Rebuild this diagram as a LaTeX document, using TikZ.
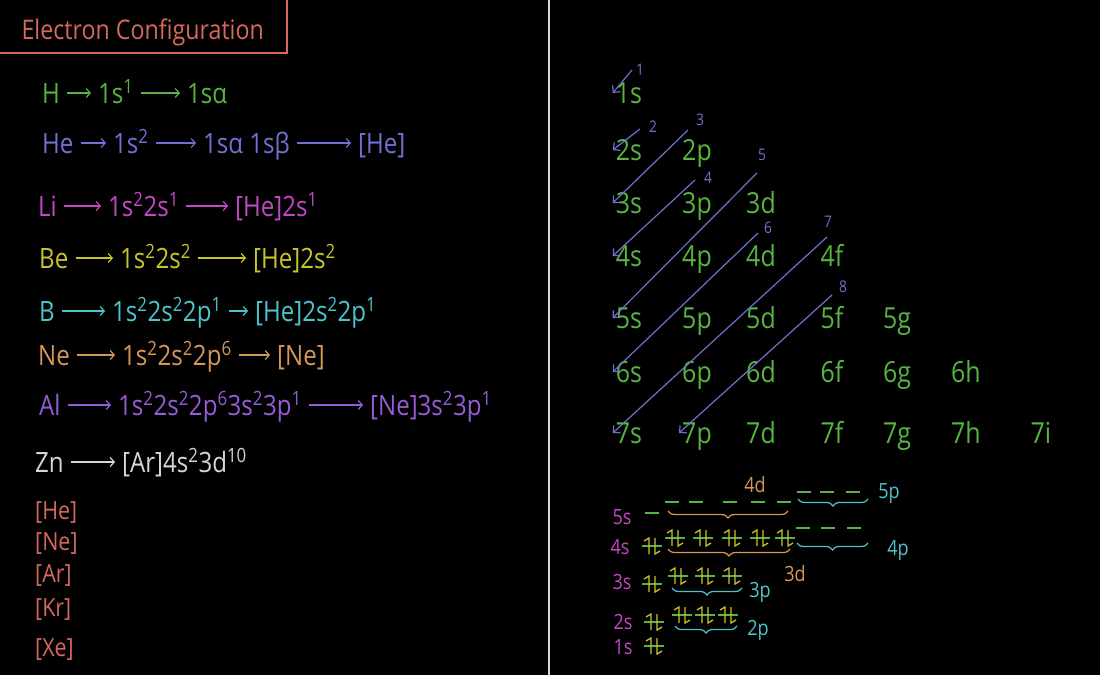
\documentclass[tikz,border=0pt]{standalone}
\usepackage{fontspec}
\setmainfont[FakeStretch=0.86]{Open Sans}
\usepackage{tikz}
\usetikzlibrary{arrows.meta, decorations.pathreplacing}
\definecolor{ChalkRed}{RGB}{214,104,92}
\definecolor{ChalkGreen}{RGB}{88,180,66}
\definecolor{ChalkBlue}{RGB}{112,112,214}
\definecolor{ChalkMagenta}{RGB}{196,72,196}
\definecolor{ChalkYellow}{RGB}{200,196,44}
\definecolor{ChalkCyan}{RGB}{76,196,204}
\definecolor{ChalkOrange}{RGB}{214,150,88}
\definecolor{ChalkPurple}{RGB}{150,92,214}
\definecolor{ChalkGrey}{RGB}{214,214,214}
\definecolor{ChalkLavender}{RGB}{112,112,206}
\newcommand{\ups}[1]{\textsuperscript{#1}}

\begin{document}
\begin{tikzpicture}[x=1pt, y=-1pt,
    eqterm/.style={anchor=west, inner sep=0pt, text height=20pt, text depth=0pt,
                   font=\fontsize{28}{30}\selectfont},
    eqarrow/.style={-{Straight Barb[length=4pt,width=9pt]}, line width=1.2pt,
                    shorten <=7pt, shorten >=7pt},
    orb/.style={inner sep=3pt, text height=21pt, text depth=0pt, text=ChalkGreen,
                font=\fontsize{29}{31}\selectfont},
    diag/.style={ChalkLavender, line width=1.2pt, -{Straight Barb[length=5pt,width=10pt]}},
    fillnum/.style={inner sep=0pt, text=ChalkLavender, font=\fontsize{16}{18}\selectfont},
    lvl/.style={inner sep=0pt, font=\fontsize{21}{23}\selectfont},
    grp/.style={decorate, decoration={brace, amplitude=7pt, mirror}, line width=1.2pt},
    epair/.pic={
      \draw[ChalkGreen, line width=1.3pt] (-10,0) -- (10,0);
      \draw[ChalkYellow, line width=1.3pt] (-8,-5) -- (-3,-8) -- (-3,8);
      \draw[ChalkYellow, line width=1.3pt] (3,-8) -- (3,8) -- (8,5);
    },
    eslot/.pic={\draw[ChalkGreen, line width=1.3pt] (-7,0) -- (7,0);}
  ]
  \fill[black] (0,0) rectangle (1100,675);
  \useasboundingbox (0,0) rectangle (1100,675);

  % title and board divider
  \node[anchor=west, text=ChalkRed, font=\fontsize{27}{29}\selectfont] (title) at (18,32) {Electron Configuration};
  \draw[ChalkRed, line width=1.5pt] (0,53) -| (287,0);
  \draw[ChalkGrey, line width=1.6pt] (549,0) -- (549,675);

  % configurations
  \node[eqterm, ChalkGreen] (h-el) at (42,93) {H};
  \node[eqterm, ChalkGreen] (h-cfg) at (98,93) {1s\ups{1}};
  \node[eqterm, ChalkGreen] (h-spin) at (187,93) {1sα};
  \draw[eqarrow, ChalkGreen] (h-el) -- (h-cfg);
  \draw[eqarrow, ChalkGreen] (h-cfg) -- (h-spin);

  \node[eqterm, ChalkBlue] (he-el) at (42,143) {He};
  \node[eqterm, ChalkBlue] (he-cfg) at (113,143) {1s\ups{2}};
  \node[eqterm, ChalkBlue] (he-spin) at (203,143) {1sα 1sβ};
  \node[eqterm, ChalkBlue] (he-core) at (358,143) {[He]};
  \draw[eqarrow, ChalkBlue] (he-el) -- (he-cfg);
  \draw[eqarrow, ChalkBlue] (he-cfg) -- (he-spin);
  \draw[eqarrow, ChalkBlue] (he-spin) -- (he-core);

  \node[eqterm, ChalkMagenta] (li-el) at (38,206) {Li};
  \node[eqterm, ChalkMagenta] (li-cfg) at (108,206) {1s\ups{2}2s\ups{1}};
  \node[eqterm, ChalkMagenta] (li-core) at (235,206) {[He]2s\ups{1}};
  \draw[eqarrow, ChalkMagenta] (li-el) -- (li-cfg);
  \draw[eqarrow, ChalkMagenta] (li-cfg) -- (li-core);

  \node[eqterm, ChalkYellow] (be-el) at (39,258) {Be};
  \node[eqterm, ChalkYellow] (be-cfg) at (120,258) {1s\ups{2}2s\ups{2}};
  \node[eqterm, ChalkYellow] (be-core) at (253,258) {[He]2s\ups{2}};
  \draw[eqarrow, ChalkYellow] (be-el) -- (be-cfg);
  \draw[eqarrow, ChalkYellow] (be-cfg) -- (be-core);

  \node[eqterm, ChalkCyan] (b-el) at (39,311) {B};
  \node[eqterm, ChalkCyan] (b-cfg) at (112,311) {1s\ups{2}2s\ups{2}2p\ups{1}};
  \node[eqterm, ChalkCyan] (b-core) at (255,311) {[He]2s\ups{2}2p\ups{1}};
  \draw[eqarrow, ChalkCyan] (b-el) -- (b-cfg);
  \draw[eqarrow, ChalkCyan] (b-cfg) -- (b-core);

  \node[eqterm, ChalkOrange] (ne-el) at (38,355) {Ne};
  \node[eqterm, ChalkOrange] (ne-cfg) at (122,355) {1s\ups{2}2s\ups{2}2p\ups{6}};
  \node[eqterm, ChalkOrange] (ne-core) at (277,355) {[Ne]};
  \draw[eqarrow, ChalkOrange] (ne-el) -- (ne-cfg);
  \draw[eqarrow, ChalkOrange] (ne-cfg) -- (ne-core);

  \node[eqterm, ChalkPurple] (al-el) at (39,405) {Al};
  \node[eqterm, ChalkPurple] (al-cfg) at (118,405) {1s\ups{2}2s\ups{2}2p\ups{6}3s\ups{2}3p\ups{1}};
  \node[eqterm, ChalkPurple] (al-core) at (370,405) {[Ne]3s\ups{2}3p\ups{1}};
  \draw[eqarrow, ChalkPurple] (al-el) -- (al-cfg);
  \draw[eqarrow, ChalkPurple] (al-cfg) -- (al-core);

  \node[eqterm, ChalkGrey] (zn-el) at (35,462) {Zn};
  \node[eqterm, ChalkGrey] (zn-core) at (122,462) {[Ar]4s\ups{2}3d\ups{10}};
  \draw[eqarrow, ChalkGrey] (zn-el) -- (zn-core);

  % noble gas cores
  \foreach \g/\y [count=\k] in {He/510, Ne/541, Ar/573, Kr/607, Xe/647}
    \node[eqterm, ChalkRed, font=\fontsize{25}{27}\selectfont, text height=18pt] (core\k) at (35,\y) {[\g]};

  % aufbau grid
  \foreach \n/\y in {1/93, 2/150, 3/203, 4/256, 5/318, 6/372, 7/433} {
    \foreach \l/\x [count=\i] in {s/629, p/697, d/761, f/832, g/897, h/966, i/1041} {
      \ifnum\i>\n\else \node[orb] (o-\n\l) at (\x,\y) {\n\l}; \fi
    }
  }

  \coordinate (d1) at (632,70);
  \coordinate (d2) at (640,129);
  \coordinate (d3) at (688,130);
  \coordinate (d4) at (695,180);
  \coordinate (d5) at (757,173);
  \coordinate (d6) at (758,233);
  \coordinate (d7) at (827,237);
  \coordinate (d8) at (832,295);
  \draw[diag] (d1) -- (o-1s.west);
  \draw[diag] (d2) -- (o-2s.west);
  \draw[diag] (d3) -- (o-3s.west);
  \draw[diag] (d4) -- (o-4s.west);
  \draw[diag] (d5) -- (o-5s.west);
  \draw[diag] (d6) -- (o-6s.west);
  \draw[diag] (d7) -- (o-7s.west);
  \draw[diag] (d8) -- (o-7p.west);
  \node[fillnum] (n1) at (640,70) {1};
  \node[fillnum] (n2) at (653,127) {2};
  \node[fillnum] (n3) at (700,120) {3};
  \node[fillnum] (n4) at (708,178) {4};
  \node[fillnum] (n5) at (762,155) {5};
  \node[fillnum] (n6) at (768,228) {6};
  \node[fillnum] (n7) at (828,222) {7};
  \node[fillnum] (n8) at (843,287) {8};

  % orbital filling
  \node[lvl, ChalkMagenta] (lv-5s) at (622,517) {5s};
  \node[lvl, ChalkMagenta] (lv-4s) at (620,547) {4s};
  \node[lvl, ChalkMagenta] (lv-3s) at (622,582) {3s};
  \node[lvl, ChalkMagenta] (lv-2s) at (623,622) {2s};
  \node[lvl, ChalkMagenta] (lv-1s) at (623,647) {1s};
  \pic at (652,513) {eslot};
  \pic at (652,546) {epair};
  \pic at (652,584) {epair};
  \pic at (654,622) {epair};
  \pic at (654,646) {epair};

  \foreach \x in {672,696,730,758,784} \pic at (\x,502) {eslot};
  \draw[grp, ChalkOrange] (668,511) -- (788,511);
  \node[lvl, ChalkOrange] (lb-4d) at (755,485) {4d};
  \foreach \x in {675,703,732,760,785} \pic at (\x,538) {epair};
  \draw[grp, ChalkOrange] (668,549) -- (790,549);
  \node[lvl, ChalkOrange] (lb-3d) at (795,574) {3d};

  \foreach \x in {804,827,853} \pic at (\x,492) {eslot};
  \draw[grp, ChalkCyan] (798,499) -- (868,499);
  \node[lvl, ChalkCyan] (lb-5p) at (889,494) {5p};
  \foreach \x in {803,828,854} \pic at (\x,528) {eslot};
  \draw[grp, ChalkCyan] (797,543) -- (868,543);
  \node[lvl, ChalkCyan] (lb-4p) at (898,550) {4p};

  \foreach \x in {678,705,732} \pic at (\x,576) {epair};
  \draw[grp, ChalkCyan] (672,588) -- (742,588);
  \node[lvl, ChalkCyan] (lb-3p) at (760,592) {3p};
  \foreach \x in {682,705,728} \pic at (\x,615) {epair};
  \draw[grp, ChalkCyan] (675,626) -- (737,626);
  \node[lvl, ChalkCyan] (lb-2p) at (758,630) {2p};
\end{tikzpicture}
\end{document}
